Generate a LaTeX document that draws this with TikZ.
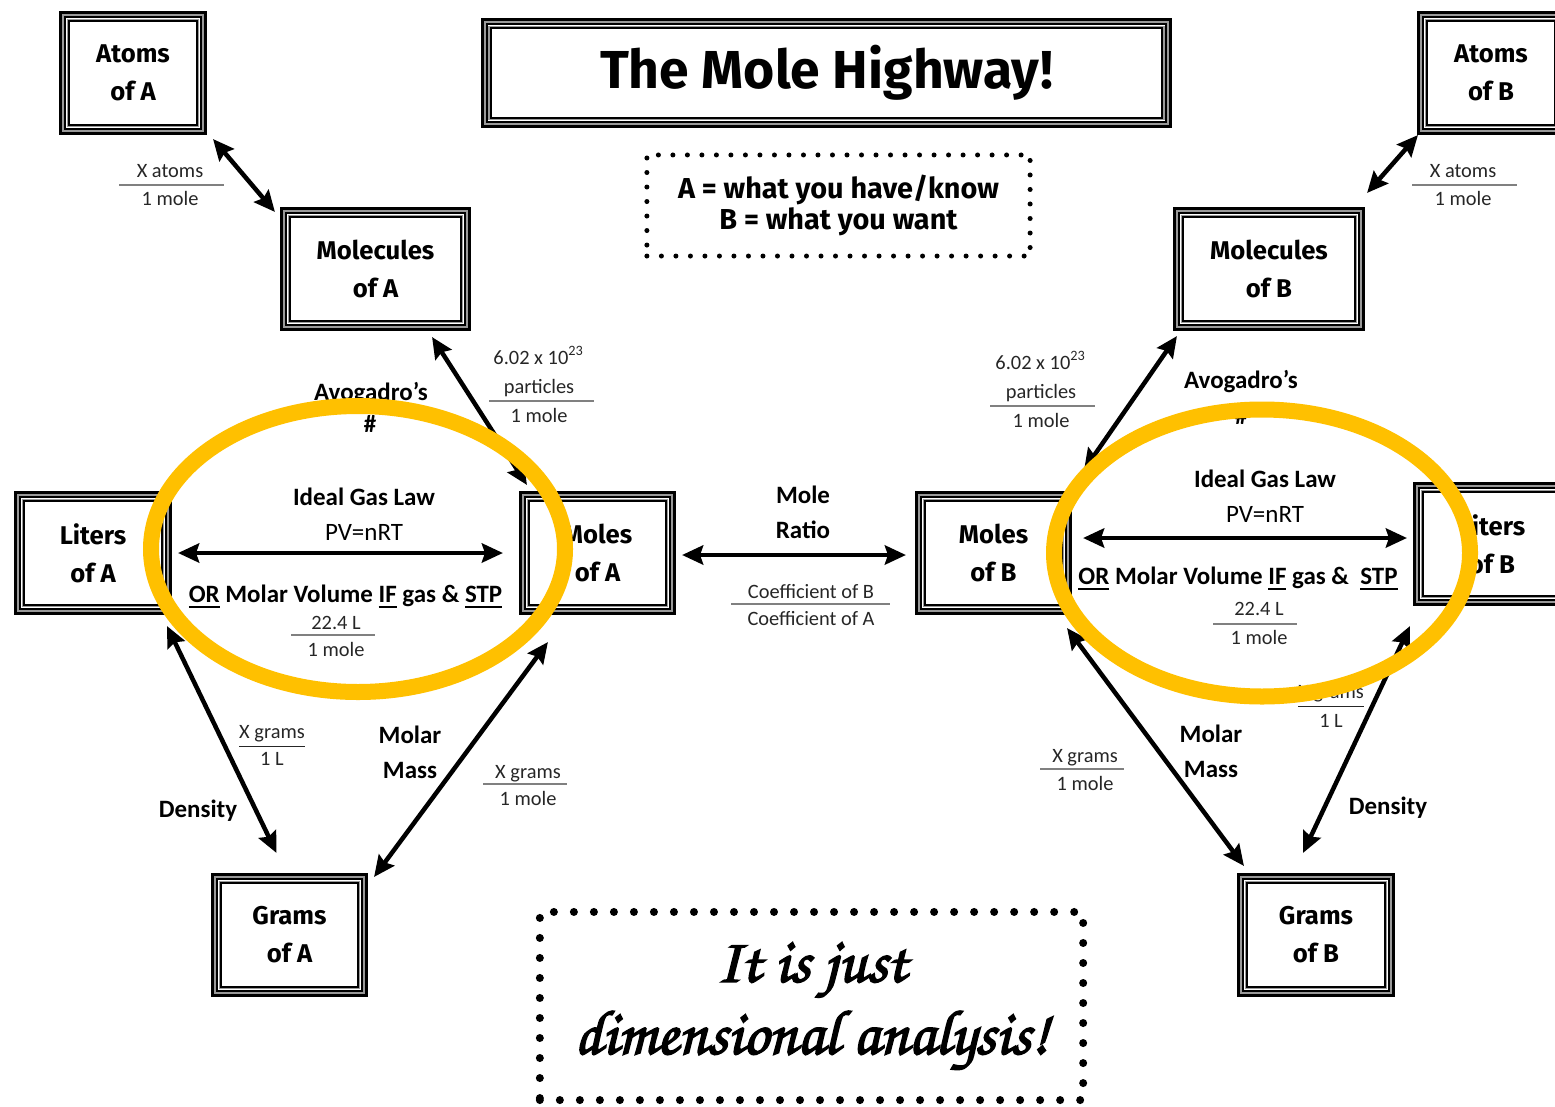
\documentclass[tikz,border=0pt]{standalone}
\usepackage{fontspec}
\usetikzlibrary{arrows.meta,calc,positioning}
\setmainfont{Carlito}
\newfontfamily\boxfont{Fira Sans}
\newfontfamily\calfont{Carlito}
\newfontfamily\chorusfont[FakeBold=2.5]{texgyrechorus-mediumitalic.otf}
\definecolor{hwyellow}{HTML}{FFC000}

\begin{document}
\begin{tikzpicture}[x=0.01cm, y=-0.01cm,
  hwbox/.style={rectangle, fill=white, inner sep=0pt, outer sep=0pt, align=center,
    minimum width=1.57cm, minimum height=1.24cm,
    font=\boxfont\bfseries\fontsize{7.3}{10.8}\selectfont,
    path picture={
      \foreach \ins/\lw/\col in {1.5/3/black, 4/1.6/black!40, 6/2/black, 8.3/1.3/black!40, 10.3/2/black}{
        \draw[\col, line width=\lw*0.01cm] ($(path picture bounding box.south west)+(\ins*0.01cm,\ins*0.01cm)$) rectangle ($(path picture bounding box.north east)-(\ins*0.01cm,\ins*0.01cm)$);
      }
    }},
  dotbox/.style={rectangle, draw=black, line cap=round, inner sep=0pt, align=center},
  lbl/.style={font=\calfont\bfseries\fontsize{7.1}{9}\selectfont, anchor=base, inner sep=0pt},
  fracl/.style={font=\calfont\fontsize{5.8}{7}\selectfont, text=black!85, anchor=base, inner sep=0pt},
  fracline/.style={draw=black!50, line width=0.015cm},
  hwarrow/.style={{Stealth[length=0.21cm,width=0.19cm,inset=0.03cm]}-{Stealth[length=0.21cm,width=0.19cm,inset=0.03cm]}, line width=0.045cm},
  ring/.style={draw=hwyellow, line width=0.16cm}]

  \useasboundingbox (0,0) rectangle (1555,1106);

  % boxes
  \node[hwbox, minimum width=6.91cm, minimum height=1.10cm, font=\boxfont\bfseries\fontsize{15.2}{17}\selectfont] (title) at (826.5,73) {The Mole Highway!};
  \node[hwbox, minimum width=1.48cm] (atomsA) at (133,73) {Atoms\\of A};
  \node[hwbox, minimum width=1.91cm] (molecA) at (375.5,269) {Molecules\\of A};
  \node[hwbox, minimum width=1.58cm] (litersA) at (93,553) {Liters\\of A};
  \node[hwbox] (molesA) at (597.5,553) {Moles\\of A};
  \node[hwbox] (gramsA) at (289.5,935) {Grams\\of A};
  \node[hwbox, minimum width=1.48cm] (atomsB) at (1491,73) {Atoms\\of B};
  \node[hwbox, minimum width=1.92cm] (molecB) at (1269,269) {Molecules\\of B};
  \node[hwbox] (molesB) at (993.5,553) {Moles\\of B};
  \node[hwbox, minimum width=1.58cm] (litersB) at (1492,544) {Liters\\of B};
  \node[hwbox, minimum width=1.58cm] (gramsB) at (1316,935) {Grams\\of B};

  \node[dotbox, minimum width=3.83cm, minimum height=1.01cm, line width=0.05cm, dash pattern=on 0pt off 0.145cm,
    font=\boxfont\bfseries\fontsize{8.2}{9}\selectfont] (key) at (838.5,205.5) {A = what you have/know\\B = what you want};
  \node[dotbox, minimum width=5.43cm, minimum height=1.88cm, line width=0.08cm, dash pattern=on 0pt off 0.2cm,
    font=\chorusfont\fontsize{18}{20.5}\selectfont] (motto) at (811.5,1006) {It is just\\dimensional analysis!};

  % labels, left side
  \node[fracl] (xatA) at (170,177) {X atoms};
  \node[fracl] (onemolA) at (170,205) {1 mole};
  \draw[fracline] ($(xatA.base)+(-51,8)$) -- ($(xatA.base)+(54,8)$);

  \node[fracl] (avnA) at (539,364) {6.02 x 10\textsuperscript{23}};
  \node[fracl] (partA) at (539,393) {particles};
  \node[fracl] (avmolA) at (539,422) {1 mole};
  \draw[fracline] ($(partA.base)+(-50,8)$) -- ($(partA.base)+(55,8)$);
  \node[lbl] (avoA) at (371,400) {Avogadro’s};
  \node[lbl] (hashA) at (370,432) {\#};

  \node[lbl] (idealA) at (364,505) {Ideal Gas Law};
  \node[lbl, font=\calfont\fontsize{7.1}{9}\selectfont] (pvA) at (364,540) {PV=nRT};
  \node[lbl] (mvolA) at (345.5,602) {\underline{OR} Molar Volume \underline{IF} gas \& \underline{STP}};
  \node[fracl] (ltrA) at (336,629) {22.4 L};
  \node[fracl] (ltrmolA) at (336,656) {1 mole};
  \draw[fracline] ($(ltrA.base)+(-45,6)$) -- ($(ltrA.base)+(39,6)$);

  \node[fracl] (dgA) at (272,738) {\underline{X grams}};
  \node[fracl] (dlA) at (272,765) {1 L};
  \node[lbl] (densA) at (198,817) {Density};
  \node[lbl] (molarA) at (410,743) {Molar};
  \node[lbl] (massA) at (410,778) {Mass};
  \node[fracl] (mgA) at (528,778) {X grams};
  \node[fracl] (mmolA) at (528,805) {1 mole};
  \draw[fracline] ($(mgA.base)+(-45,6)$) -- ($(mgA.base)+(39,6)$);

  % labels, middle
  \node[lbl] (moleR) at (803,503) {Mole};
  \node[lbl] (ratioR) at (803,538) {Ratio};
  \node[fracl] (coefB) at (811,598) {Coefficient of B};
  \node[fracl] (coefA) at (811,625) {Coefficient of A};
  \draw[fracline] ($(coefB.base)+(-80,6)$) -- ($(coefB.base)+(79,6)$);

  % labels, right side
  \node[fracl] (xatB) at (1463,177) {X atoms};
  \node[fracl] (onemolB) at (1463,205) {1 mole};
  \draw[fracline] ($(xatB.base)+(-51,8)$) -- ($(xatB.base)+(54,8)$);

  \node[fracl] (avnB) at (1041,369) {6.02 x 10\textsuperscript{23}};
  \node[fracl] (partB) at (1041,398) {particles};
  \node[fracl] (avmolB) at (1041,427) {1 mole};
  \draw[fracline] ($(partB.base)+(-51,8)$) -- ($(partB.base)+(54,8)$);
  \node[lbl] (avoB) at (1241,388) {Avogadro’s};
  \node[lbl] (hashB) at (1241,424) {\#};

  \node[lbl] (idealB) at (1265,487) {Ideal Gas Law};
  \node[lbl, font=\calfont\fontsize{7.1}{9}\selectfont] (pvB) at (1265,522) {PV=nRT};
  \node[lbl] (mvolB) at (1238,584) {\underline{OR} Molar Volume \underline{IF} gas \&\ \ \underline{STP}};
  \node[fracl] (ltrB) at (1259,615) {22.4 L};
  \node[fracl] (ltrmolB) at (1259,644) {1 mole};
  \draw[fracline] ($(ltrB.base)+(-46,9)$) -- ($(ltrB.base)+(38,9)$);

  \node[fracl] (dgB) at (1331,698) {\underline{X grams}};
  \node[fracl] (dlB) at (1331,727) {1 L};
  \node[lbl] (densB) at (1388,814) {Density};
  \node[lbl] (molarB) at (1211,742) {Molar};
  \node[lbl] (massB) at (1211,777) {Mass};
  \node[fracl] (mgB) at (1085,762) {X grams};
  \node[fracl] (mmolB) at (1085,790) {1 mole};
  \draw[fracline] ($(mgB.base)+(-45,7)$) -- ($(mgB.base)+(39,7)$);

  % connectors
  \draw[hwarrow] ($(atomsA.south east)+(6,4)$) -- ($(molecA.north west)+(-5,5)$);
  \draw[hwarrow] ($(molecA.south east)+(-39,6)$) -- ($(molesA.north west)+(8,-6)$);
  \draw[hwarrow] ($(litersA.east)+(6,0)$) -- ($(molesA.west)+(-16,0)$);
  \draw[hwarrow] ($(molesA.east)+(6,2)$) -- ($(molesB.west)+(-9,2)$);
  \draw[hwarrow] ($(litersA.south east)+(-5,11)$) -- ($(gramsA.north)+(-13,-20)$);
  \draw[hwarrow] ($(molesA.south west)+(29,27)$) -- ($(gramsA.north east)+(6,4)$);
  \draw[hwarrow] ($(atomsB.south west)+(1,0)$) -- ($(molecB.north east)+(2,-14)$);
  \draw[hwarrow] ($(molecB.south west)+(4,5)$) -- ($(molesB.north east)+(12,-21)$);
  \draw[hwarrow] ($(molesB.east)+(11,-15)$) -- ($(litersB.west)+(-6,-6)$);
  \draw[hwarrow] ($(molesB.south east)+(-5,13)$) -- ($(gramsB.north west)+(7,-7)$);
  \draw[hwarrow] ($(litersB.south west)+(-3,20)$) -- ($(gramsB.north)+(-13,-20)$);

  % highlight rings
  \draw[ring] (358,549) ellipse [x radius=207, y radius=143];
  \draw[ring] (1262,553) ellipse [x radius=208, y radius=143.5];

\end{tikzpicture}
\end{document}
